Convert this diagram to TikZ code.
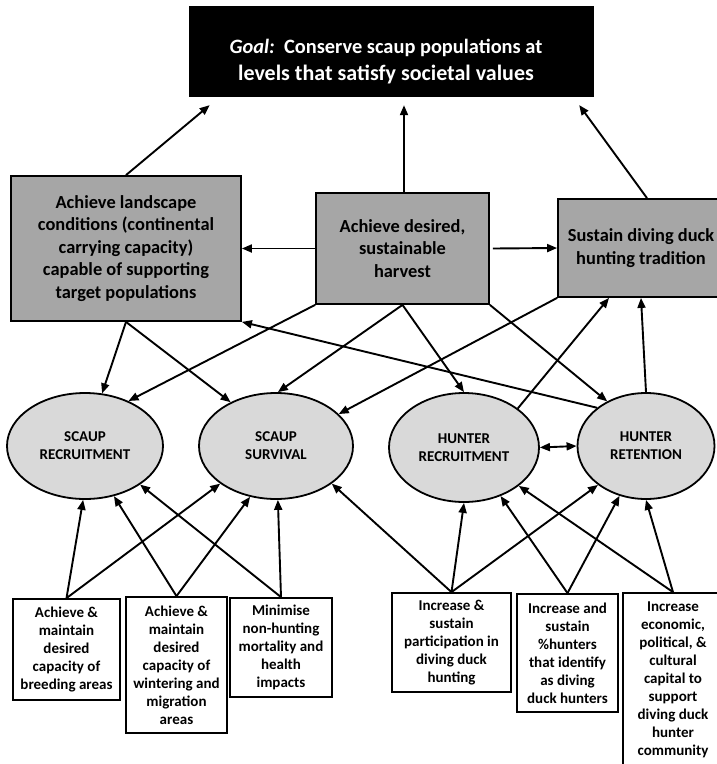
\documentclass[tikz,border=0pt]{standalone}
\usepackage{fontspec}
\setmainfont{Carlito}
\usetikzlibrary{arrows.meta,shapes.geometric,calc}
\definecolor{boxgrey}{HTML}{A6A6A6}
\definecolor{ovalgrey}{HTML}{D9D9D9}
\begin{document}
\begin{tikzpicture}[x=1pt,y=-1pt,
  conn/.style={line width=1.9pt,draw=black},
  arr/.style={conn,-{Triangle[length=10pt,width=8pt]}},
  darr/.style={conn,{Triangle[length=10pt,width=8pt]}-{Triangle[length=10pt,width=8pt]}},
  goalbox/.style={rectangle,fill=black,draw=black,inner sep=0pt},
  greybox/.style={rectangle,draw=black,line width=1.8pt,fill=boxgrey,inner sep=0pt,align=center,font=\bfseries\fontsize{18.4}{22.5}\selectfont},
  oval/.style={ellipse,draw=black,line width=1.8pt,fill=ovalgrey,inner sep=0pt,align=center,font=\bfseries\fontsize{15}{18}\selectfont},
  leaf/.style={rectangle,draw=black,line width=1.8pt,fill=white,inner sep=0pt,align=center,font=\bfseries\fontsize{15}{18}\selectfont}
]
\useasboundingbox (0,0) rectangle (716,764);
\fill[white] (0,0) rectangle (716,764);

% goal
\node[goalbox,minimum width=404pt,minimum height=90pt] (goal) at (391,51) {};
\node[text=white,align=center,font=\bfseries\fontsize{22}{27}\selectfont] (goaltext) at (386,62)
  {{\fontsize{20.4}{27}\selectfont\textit{Goal:}\ \ Conserve scaup populations at}\\levels that satisfy societal values};

% objectives
\node[greybox,minimum width=230pt,minimum height=145pt] (land) at (126,248.5)
  {Achieve landscape\\conditions (continental\\carrying capacity)\\capable of supporting\\target populations};
\node[greybox,minimum width=173pt,minimum height=111pt] (harv) at (402.5,248.5)
  {Achieve desired,\\sustainable\\harvest};
\node[greybox,minimum width=166pt,minimum height=98pt] (trad) at (641,248)
  {Sustain diving duck\\hunting tradition};

% ovals
\node[oval,minimum width=156pt,minimum height=106pt] (sr) at (85,446) {SCAUP\\RECRUITMENT};
\node[oval,minimum width=154pt,minimum height=106pt] (ss) at (276,446) {SCAUP\\SURVIVAL};
\node[oval,minimum width=150pt,minimum height=109pt] (hr) at (464,447.5) {HUNTER\\RECRUITMENT};
\node[oval,minimum width=137pt,minimum height=106pt] (ht) at (646,446) {HUNTER\\RETENTION};

% bottom boxes
\node[leaf,minimum width=107pt,minimum height=101pt] (b1) at (66.5,649.5)
  {Achieve \&\\maintain\\desired\\capacity of\\breeding areas};
\node[leaf,minimum width=101pt,minimum height=136pt] (b2) at (176.5,665)
  {Achieve \&\\maintain\\desired\\capacity of\\wintering and\\migration\\areas};
\node[leaf,minimum width=102pt,minimum height=99pt] (b3) at (281,647.5)
  {Minimise\\non-hunting\\mortality and\\health\\impacts};
\node[leaf,minimum width=119pt,minimum height=99pt] (b4) at (451.5,642.5)
  {Increase \&\\sustain\\participation in\\diving duck\\hunting};
\node[leaf,minimum width=101pt,minimum height=118pt] (b5) at (567.5,653)
  {Increase and\\sustain\\\%hunters\\that identify\\as diving\\duck hunters};
\node[leaf,minimum width=100pt,minimum height=174pt] (b6) at (673,680)
  {Increase\\economic,\\political, \&\\cultural\\capital to\\support\\diving duck\\hunter\\community};

% to goal
\draw[arr,shorten >=14pt] (land.north) -- ([xshift=31.6pt]goal.south west);
\draw[arr,shorten >=9pt] ([xshift=1.5pt]harv.north) -- ([xshift=1.5pt]goal.south -| harv.north);
\draw[arr,shorten >=11pt] ([xshift=6pt]trad.north) -- ([xshift=-20.5pt]goal.south east);

% between objectives
\draw[arr] (harv.west) -- (land.east);
\draw[arr] ([xshift=3pt]harv.east) -- (trad.west);

% objectives to ovals
\draw[arr] (land.south) -- (sr.72);
\draw[arr] (land.south) -- (ss.136);
\draw[arr] (harv.south west) -- (sr.46);
\draw[arr] (harv.south) -- (ss.88);
\draw[arr] (harv.south) -- (hr.north);
\draw[arr] (harv.south east) -- (ht.131);
\draw[arr] (trad.south west) -- (ss.27);

% ovals to objectives
\draw[arr] (hr.36) -- ([xshift=-32pt]trad.south);
\draw[arr] (ht.north) -- (trad.south);
\draw[arr] (ht.142) -- (land.south east);
\draw[darr] (hr.east) -- (ht.west);

% bottom boxes to ovals
\draw[arr] (b1.north) -- (sr.-92);
\draw[arr] (b1.north) -- (ss.-146);
\draw[arr] (b2.north) -- (sr.-60);
\draw[arr] (b2.north) -- (ss.-117);
\draw[arr] (b3.north) -- (ss.-88);
\draw[arr] (b3.north) -- (sr.-35);
\draw[arr] (b4.north) -- (ss.-34);
\draw[arr] (b4.north) -- (hr.south);
\draw[arr] (b4.north) -- (ht.-141);
\draw[arr] (b5.north) -- (hr.-53);
\draw[arr] (b5.north) -- (ht.-118);
\draw[arr] (b6.north) -- (hr.-35);
\draw[arr] (b6.north) -- (ht.south);
\end{tikzpicture}
\end{document}
